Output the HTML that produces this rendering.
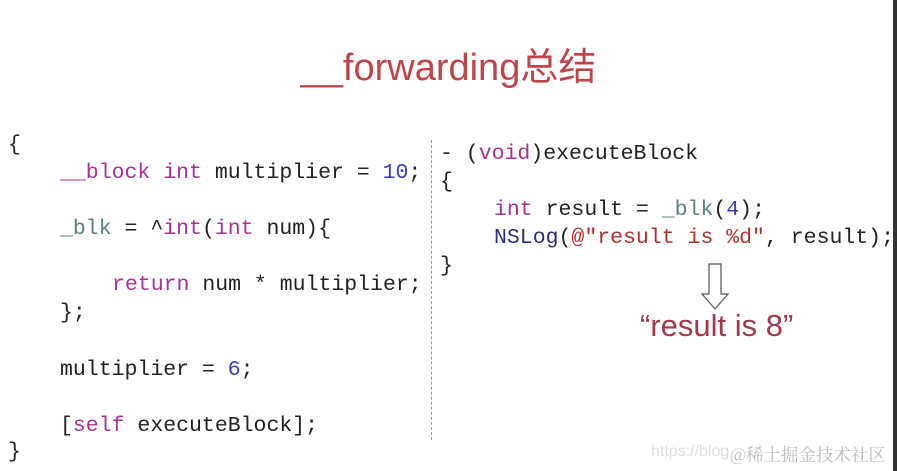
<!DOCTYPE html>
<html><head><meta charset="utf-8"><style>
body{margin:0;width:897px;height:471px;background:#fff;position:relative;overflow:hidden;font-family:"Liberation Sans","Noto Sans CJK SC",sans-serif}
.c{position:absolute;font-family:"Liberation Mono",monospace;font-size:21.5px;color:#222;white-space:pre;line-height:28px}
.k{color:#a9309b}.n{color:#3a3ac8}.v{color:#5f8080}.s{color:#b03030}.f{color:#2c2c7a}
</style></head><body>
<div style="position:absolute;left:0;width:897px;top:36px;text-align:center;font-size:38px;color:#c0454a">__forwarding总结</div>
<div class="c" style="left:8px;top:131px">{</div>
<div class="c" style="left:60px;top:159px"><span class="k">__block</span> <span class="k">int</span> multiplier = <span class="n">10</span>;</div>
<div class="c" style="left:60px;top:215px"><span class="v">_blk</span> = ^<span class="k">int</span>(<span class="k">int</span> num){</div>
<div class="c" style="left:112px;top:271px"><span class="k">return</span> num * multiplier;</div>
<div class="c" style="left:60px;top:299px">};</div>
<div class="c" style="left:60px;top:356px">multiplier = <span class="n">6</span>;</div>
<div class="c" style="left:60px;top:412px">[<span class="k">self</span> executeBlock];</div>
<div class="c" style="left:8px;top:438px">}</div>
<div style="position:absolute;left:431px;top:140px;height:300px;border-left:1px dashed #999"></div>
<div class="c" style="left:440px;top:140px">- (<span class="k">void</span>)executeBlock</div>
<div class="c" style="left:440px;top:168px">{</div>
<div class="c" style="left:494px;top:196px"><span class="k">int</span> result = <span class="v">_blk</span>(<span class="n">4</span>);</div>
<div class="c" style="left:494px;top:224px"><span class="f">NSLog</span>(<span class="s">@"result is %d"</span>, result);</div>
<div class="c" style="left:440px;top:252px">}</div>
<svg style="position:absolute;left:700px;top:262px" width="30" height="50"><path d="M9 2 H21 V32 H28 L15 47 L2 32 H9 Z" fill="#fff" stroke="#555" stroke-width="1.2"/></svg>
<div style="position:absolute;left:640px;top:308px;font-size:31px;color:#a6374a;white-space:nowrap">“result is 8”</div>
<div style="position:absolute;left:651px;top:443px;font-size:16px;color:#ddd;white-space:nowrap">https://blog</div>
<div style="position:absolute;left:730px;top:442px;font-size:17.5px;color:#bbb;white-space:nowrap;font-family:'Noto Serif CJK SC',serif">@稀土掘金技术社区</div>
<div style="position:absolute;left:893px;top:0;width:4px;height:471px;background:#333"></div>
</body></html>
